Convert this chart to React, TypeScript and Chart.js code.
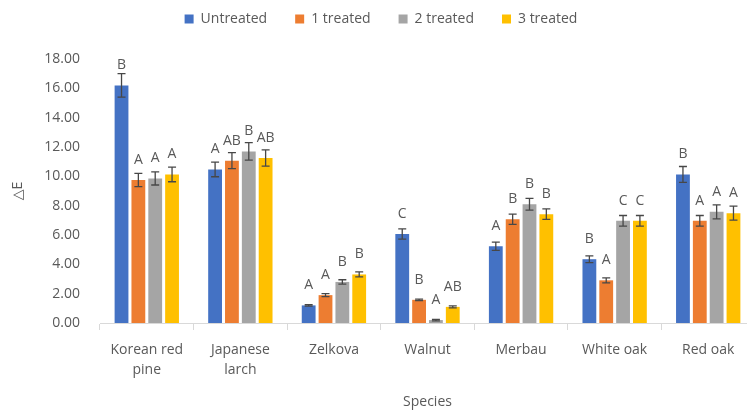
import React, { useEffect, useRef } from "react";
import { Chart, registerables } from "chart.js";

Chart.register(...registerables);

const categories: (string | string[])[] = [
  ["Korean red", "pine"],
  ["Japanese", "larch"],
  "Zelkova",
  "Walnut",
  "Merbau",
  "White oak",
  "Red oak",
];

const seriesNames = ["Untreated", "1 treated", "2 treated", "3 treated"];
const seriesColors = ["#4472C4", "#ED7D31", "#A5A5A5", "#FFC000"];

const untreated = [16.2, 10.47, 1.2, 6.07, 5.23, 4.35, 10.13];
const treated1 = [9.75, 11.07, 1.9, 1.58, 7.08, 2.91, 6.97];
const treated2 = [9.86, 11.7, 2.8, 0.2, 8.1, 6.97, 7.58];
const treated3 = [10.13, 11.25, 3.31, 1.1, 7.42, 6.97, 7.49];

const errUntreated = [0.8, 0.5, 0.05, 0.35, 0.28, 0.23, 0.54];
const err1 = [0.45, 0.55, 0.1, 0.05, 0.35, 0.17, 0.36];
const err2 = [0.45, 0.6, 0.15, 0.05, 0.4, 0.36, 0.48];
const err3 = [0.5, 0.55, 0.17, 0.07, 0.36, 0.36, 0.48];

const lettersUntreated = ["B", "A", "A", "C", "A", "B", "B"];
const letters1 = ["A", "AB", "A", "B", "B", "A", "A"];
const letters2 = ["A", "B", "B", "A", "B", "C", "A"];
const letters3 = ["A", "AB", "B", "AB", "B", "C", "A"];

const yTicks = [0, 2, 4, 6, 8, 10, 12, 14, 16, 18];

const xTitle = "Species";
const yTitle = "△E";

const allValues = [untreated, treated1, treated2, treated3];
const allErrors = [errUntreated, err1, err2, err3];
const allLetters = [lettersUntreated, letters1, letters2, letters3];

const FONT = "'Open Sans', 'Noto Sans', 'DejaVu Sans', sans-serif";
const TEXT = "#595959";

const errorLetterPlugin = {
  id: "errorLetters",
  afterLayout(chart: any) {
    const l = chart.legend;
    if (l) {
      l.top -= 23;
      l.bottom -= 23;
    }
  },
  afterDatasetsDraw(chart: any) {
    const ctx = chart.ctx;
    const yScale = chart.scales.y;
    ctx.save();
    chart.data.datasets.forEach((ds: any, di: number) => {
      const meta = chart.getDatasetMeta(di);
      meta.data.forEach((bar: any, i: number) => {
        const v = allValues[di][i];
        const e = allErrors[di][i];
        const yTop = yScale.getPixelForValue(v + e);
        const yBot = yScale.getPixelForValue(Math.max(0, v - e));
        const x = bar.x;
        ctx.strokeStyle = "#474747";
        ctx.lineWidth = 1.3;
        ctx.beginPath();
        ctx.moveTo(x, yTop);
        ctx.lineTo(x, yBot);
        ctx.moveTo(x - 4, yTop);
        ctx.lineTo(x + 4, yTop);
        ctx.moveTo(x - 4, yBot);
        ctx.lineTo(x + 4, yBot);
        ctx.stroke();
        ctx.fillStyle = TEXT;
        ctx.font = `14px ${FONT}`;
        ctx.textAlign = "center";
        ctx.textBaseline = "middle";
        ctx.fillText(allLetters[di][i], x, bar.y - 20);
      });
    });
    ctx.restore();
  },
};

export default function App() {
  const ref = useRef<HTMLCanvasElement | null>(null);
  useEffect(() => {
    document.body.style.overflow = "hidden";
    if (!ref.current) return;
    const chart = new Chart(ref.current, {
      type: "bar",
      data: {
        labels: categories,
        datasets: seriesNames.map((name, i) => ({
          label: name,
          data: allValues[i],
          backgroundColor: seriesColors[i],
          borderWidth: 0,
          categoryPercentage: 0.72,
          barPercentage: 0.82,
        })),
      },
      options: {
        animation: false,
        responsive: true,
        maintainAspectRatio: false,
        layout: { padding: { left: 7, right: 7, top: 7, bottom: 0 } },
        plugins: {
          legend: {
            position: "top",
            labels: {
              boxWidth: 9,
              boxHeight: 9,
              padding: 28,
              color: TEXT,
              font: { family: FONT, size: 14 },
            },
          },
          tooltip: { enabled: false },
        },
        scales: {
          x: {
            grid: {
              display: true,
              drawOnChartArea: false,
              drawTicks: true,
              tickLength: 7,
              color: "#D9D9D9",
              offset: true,
            },
            border: { display: true, color: "#D9D9D9" },
            ticks: {
              color: TEXT,
              font: { family: FONT, size: 14, lineHeight: 1.45 },
              maxRotation: 0,
              autoSkip: false,
              padding: 10,
            },
            title: {
              display: true,
              text: xTitle,
              color: TEXT,
              font: { family: FONT, size: 14 },
              padding: { top: 0, bottom: 0 },
            },
            afterFit: (s: any) => {
              s.height = 87;
            },
          },
          y: {
            min: 0,
            max: 18,
            afterBuildTicks: (s: any) => {
              s.ticks = yTicks.map((v) => ({ value: v }));
            },
            grid: { display: false, drawTicks: false },
            border: { display: false },
            ticks: {
              color: TEXT,
              font: { family: FONT, size: 14 },
              padding: 20,
              callback: (v: any) => Number(v).toFixed(2),
            },
            title: {
              display: true,
              text: yTitle,
              color: TEXT,
              font: { family: FONT, size: 14 },
              padding: { top: 3, bottom: 0 },
            },
            afterFit: (s: any) => {
              s.width = 93;
            },
          },
        },
      },
      plugins: [errorLetterPlugin],
    });
    return () => chart.destroy();
  }, []);
  return (
    <div
      style={{
        position: "fixed",
        left: 0,
        top: 0,
        width: 747,
        height: 410,
        overflow: "hidden",
        background: "#fff",
      }}
    >
      <div style={{ width: 762, height: 410 }}>
        <canvas ref={ref} />
      </div>
    </div>
  );
}
